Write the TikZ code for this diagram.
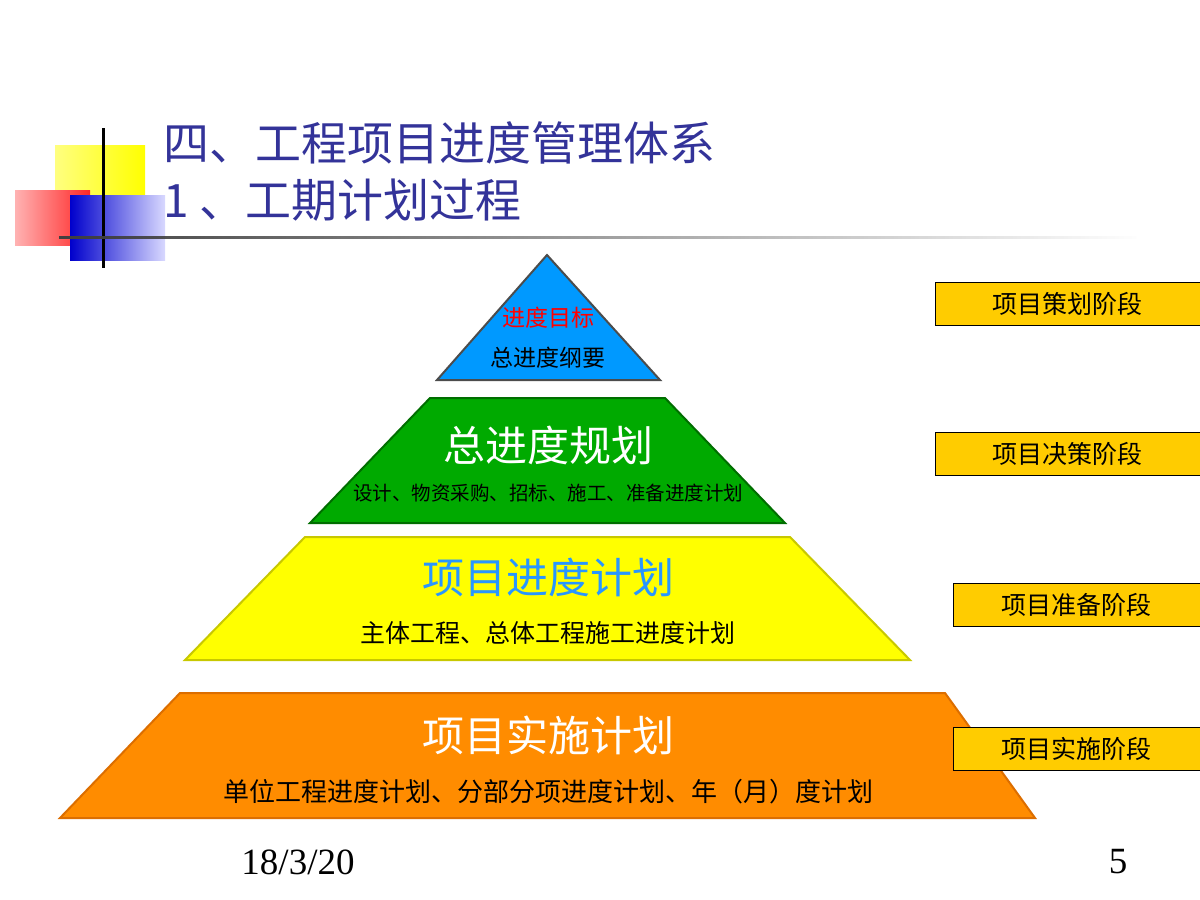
\documentclass[tikz,border=0pt]{standalone}
\usepackage{fontspec}
\setmainfont{Liberation Serif}
\newfontfamily\cjk{Noto Sans CJK SC}
\usetikzlibrary{fadings}
\definecolor{titleblue}{RGB}{51,51,153}
\definecolor{tipblue}{RGB}{0,153,255}
\definecolor{levelgreen}{RGB}{0,170,0}
\definecolor{leveldgreen}{RGB}{0,110,0}
\definecolor{levelyellow}{RGB}{255,255,0}
\definecolor{levelyedge}{RGB}{200,200,0}
\definecolor{levelorange}{RGB}{255,140,0}
\definecolor{levelodge}{RGB}{220,110,0}
\definecolor{stagegold}{RGB}{255,204,0}
\definecolor{planblue}{RGB}{40,150,255}
\tikzset{
  stagebox/.style = {draw=black, fill=stagegold, minimum height=43pt,
    inner sep=0pt, font=\cjk\fontsize{25}{25}\selectfont},
  bigtext/.style = {white, font=\cjk\fontsize{42}{42}\selectfont},
  smalltext/.style = {black, font=\cjk\fontsize{25}{25}\selectfont},
  titletext/.style = {titleblue, anchor=west, font=\cjk\fontsize{46}{46}\selectfont},
}
\begin{document}
\begin{tikzpicture}[x=1pt,y=-1pt]
  \useasboundingbox (0,0) rectangle (1200,900);
  \fill[white] (0,0) rectangle (1200,900);

  % decoration squares
  \shade[left color=yellow!50, right color=yellow] (55,145) rectangle (145,235);
  \shade[left color=red!30, right color=red!85] (15,190) rectangle (90,245);
  \shade[left color=blue!80!black, right color=blue!15] (70,195) rectangle (165,260);
  \draw[line width=3pt] (103,128) -- (103,268);
  \fill[path fading=east, black!75] (60,235.5) rectangle (1140,238.5);

  % title
  \node[titletext] (t1) at (160,143) {四、工程项目进度管理体系};
  \node[titletext] (t2) at (160,200) {1 、工期计划过程};

  % pyramid levels
  \draw[fill=tipblue, draw=black!70, line width=2pt]
    (547,255) -- (660,380) -- (437,380) -- cycle;
  \node[red, font=\cjk\fontsize{23}{23}\selectfont] (goal) at (548,318) {进度目标};
  \node[black, font=\cjk\fontsize{23}{23}\selectfont] (outline) at (548,358) {总进度纲要};

  \draw[fill=levelgreen, draw=leveldgreen, line width=2pt]
    (430,398) -- (665,398) -- (785,523) -- (310,523) -- cycle;
  \node[bigtext] (master) at (548,445) {总进度规划};
  \node[black, font=\cjk\fontsize{19.5}{19.5}\selectfont] (masterd) at (548,493) {设计、物资采购、招标、施工、准备进度计划};

  \draw[fill=levelyellow, draw=levelyedge, line width=2pt]
    (305,537) -- (790,537) -- (910,660) -- (185,660) -- cycle;
  \node[bigtext, planblue] (project) at (548,577) {项目进度计划};
  \node[smalltext] (projectd) at (548,633) {主体工程、总体工程施工进度计划};

  \draw[fill=levelorange, draw=levelodge, line width=2pt]
    (180,693) -- (945,693) -- (1035,818) -- (60,818) -- cycle;
  \node[bigtext] (impl) at (548,735) {项目实施计划};
  \node[smalltext, font=\cjk\fontsize{26}{26}\selectfont] (impld) at (548,792) {单位工程进度计划、分部分项进度计划、年（月）度计划};

  % stages
  \node[stagebox, anchor=north west, minimum width=265pt] (s1) at (935,282) {项目策划阶段};
  \node[stagebox, anchor=north west, minimum width=265pt] (s2) at (935,432) {项目决策阶段};
  \node[stagebox, anchor=north west, minimum width=247pt] (s3) at (953,583) {项目准备阶段};
  \node[stagebox, anchor=north west, minimum width=247pt] (s4) at (953,727) {项目实施阶段};

  % footer
  \node[font=\fontsize{37}{37}\selectfont] (date) at (298,862) {18/3/20};
  \node[font=\fontsize{37}{37}\selectfont] (page) at (1118,862) {5};
\end{tikzpicture}
\end{document}
